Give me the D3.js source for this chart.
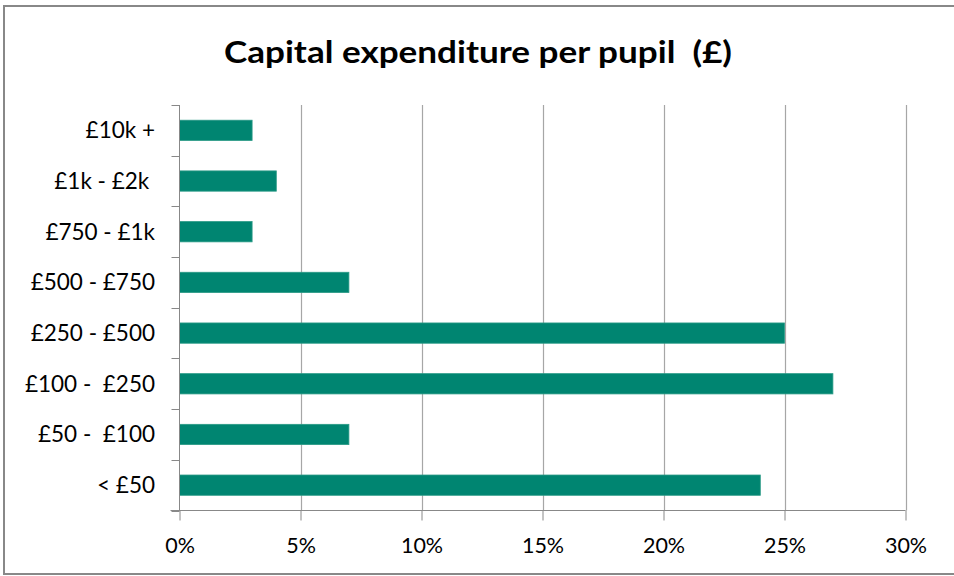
<!DOCTYPE html>
<html>
<head>
<meta charset="utf-8">
<script src="https://cdn.jsdelivr.net/npm/d3@7"></script>
<style>
  html, body { margin: 0; padding: 0; background: #fff; }
  svg { display: block; }
  text { font-family: Lato, "Open Sans", sans-serif; fill: #000; }
</style>
</head>
<body>
<svg id="chart" width="954" height="576"></svg>
<script>
// Capital expenditure per pupil, share of schools in each spending band
const categories = ["£10k +", "£1k - £2k ", "£750 - £1k", "£500 - £750", "£250 - £500", "£100 -  £250", "£50 -  £100", "< £50"];
const values = [3, 4, 3, 7, 25, 27, 7, 24];
const tickValues = [0, 5, 10, 15, 20, 25, 30];
const tickLabels = ["0%", "5%", "10%", "15%", "20%", "25%", "30%"];
const title = "Capital expenditure per pupil  (£)";

const svg = d3.select("#chart");

// outer frame
svg.append("rect")
  .attr("x", 4).attr("y", 6)
  .attr("width", 960).attr("height", 568)
  .attr("fill", "none")
  .attr("stroke", "#888")
  .attr("stroke-width", 2);

// title
svg.append("text")
  .attr("x", 478).attr("y", 63)
  .attr("text-anchor", "middle")
  .attr("font-size", 30)
  .attr("font-weight", "bold")
  .attr("textLength", 508)
  .attr("lengthAdjust", "spacingAndGlyphs")
  .style("white-space", "pre")
  .text(title);

const plotLeft = 179.5, plotRight = 905.5, plotTop = 105, plotBottom = 510.5;

const x = d3.scaleLinear().domain([0, 30]).range([plotLeft, plotRight]);
const y = d3.scaleBand().domain(categories).range([plotTop, plotBottom])
  .paddingInner(0.6).paddingOuter(0.3);

// vertical gridlines
svg.append("g")
  .selectAll("line")
  .data(tickValues.filter(v => v > 0))
  .join("line")
  .attr("x1", d => Math.round(x(d)) + 0.5).attr("x2", d => Math.round(x(d)) + 0.5)
  .attr("y1", plotTop).attr("y2", plotBottom)
  .attr("stroke", "#a6a6a6")
  .attr("stroke-width", 1.2);

// bars
svg.append("g")
  .selectAll("rect")
  .data(categories.map((c, i) => ({ c, v: values[i] })))
  .join("rect")
  .attr("x", x(0))
  .attr("y", d => y(d.c))
  .attr("width", d => x(d.v) - x(0))
  .attr("height", y.bandwidth())
  .attr("fill", "#008571")
  .attr("stroke", "#2a9a86")
  .attr("stroke-width", 0.8);

// category axis (left)
const yAxis = svg.append("g");
yAxis.append("line")
  .attr("x1", plotLeft).attr("x2", plotLeft)
  .attr("y1", plotTop).attr("y2", plotBottom)
  .attr("stroke", "#888");
const bandEdges = d3.range(categories.length + 1).map(i => plotTop + i * y.step());
yAxis.selectAll("line.tick")
  .data(bandEdges)
  .join("line")
  .attr("class", "tick")
  .attr("x1", plotLeft - 8).attr("x2", plotLeft)
  .attr("y1", d => Math.round(d) + 0.5).attr("y2", d => Math.round(d) + 0.5)
  .attr("stroke", "#888");
yAxis.selectAll("text")
  .data(categories)
  .join("text")
  .attr("x", 155)
  .attr("y", d => y(d) + y.bandwidth() / 2)
  .attr("dy", "0.35em")
  .attr("text-anchor", "end")
  .attr("font-size", 22.5)
  .style("white-space", "pre")
  .text(d => d);

// value axis (bottom)
const xAxis = svg.append("g")
  .attr("transform", `translate(0,${plotBottom})`)
  .call(d3.axisBottom(x)
    .tickValues(tickValues)
    .tickFormat((d, i) => tickLabels[i])
    .tickSize(10)
    .tickPadding(17));
xAxis.select(".domain")
  .attr("d", `M${plotLeft - 9},0H${plotRight}`)
  .attr("stroke", "#888");
xAxis.selectAll(".tick line").attr("stroke", "#888");
xAxis.selectAll(".tick text")
  .attr("font-size", 21.5)
  .attr("font-family", "Lato, 'Open Sans', sans-serif")
  .attr("fill", "#000");
</script>
</body>
</html>
